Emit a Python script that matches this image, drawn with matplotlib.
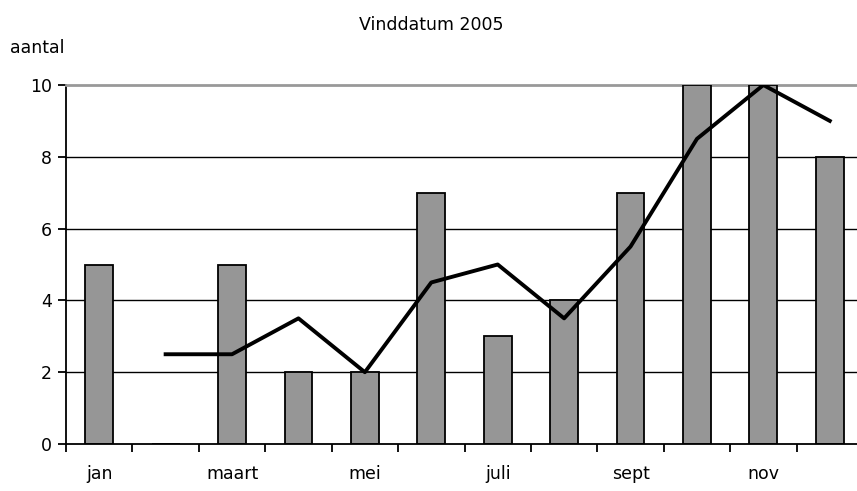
import matplotlib
matplotlib.use("Agg")
import matplotlib.pyplot as plt
import numpy as np

months = ["jan", "feb", "maart", "apr", "mei", "jun", "juli", "aug", "sept", "okt", "nov", "dec"]
tick_labels = ["jan", "", "maart", "", "mei", "", "juli", "", "sept", "", "nov", ""]
counts = [5, 0, 5, 2, 2, 7, 3, 4, 7, 10, 10, 8]
moving_avg = [None, 2.5, 2.5, 3.5, 2, 4.5, 5, 3.5, 5.5, 8.5, 10, 9]

fig = plt.figure(figsize=(8.57, 4.91), dpi=100)
plt.rcParams['font.family'] = ['DejaVu Sans']
W, H = 857, 491
left, right, top, bottom = 66, 863, 85, 444
ax = fig.add_axes([left / W, 1 - bottom / H, (right - left) / W, (bottom - top) / H])

FS = 12.5
x = np.arange(len(months))
ax.bar(x, counts, width=0.42, color="#969696", edgecolor="black", linewidth=1.3, zorder=3)
lx = [xi for xi, v in zip(x, moving_avg) if v is not None]
ly = [v for v in moving_avg if v is not None]
ax.plot(lx, ly, color="black", linewidth=2.8, zorder=4)

ax.set_xlim(-0.5, 11.5)
ax.set_ylim(0, 10)
ax.set_yticks([0, 2, 4, 6, 8, 10])
for yv in [2, 4, 6, 8]:
    ax.axhline(yv, color="black", linewidth=1.0, zorder=1)

ax.spines['top'].set_color("#999999")
ax.spines['top'].set_linewidth(2)
ax.spines['right'].set_visible(False)
ax.spines['left'].set_linewidth(1.3)
ax.spines['bottom'].set_linewidth(1.3)
ax.spines['bottom'].set_zorder(5)

ax.set_xticks(np.arange(-0.5, 12, 1.0))
ax.set_xticklabels([])
ax.set_xticks(x, minor=True)
ax.set_xticklabels(tick_labels, minor=True, fontsize=FS)
ax.tick_params(axis='x', which='minor', length=0, pad=15)
ax.tick_params(axis='x', which='major', length=6, width=1.3, direction='out')
ax.tick_params(axis='y', length=6, width=1.3, labelsize=FS, pad=4)

fig.text(431 / W, 1 - 25 / H, "Vinddatum 2005", ha="center", va="center", fontsize=FS)
fig.text(10 / W, 1 - 48 / H, "aantal", ha="left", va="center", fontsize=FS)

fig.savefig("out.png", dpi=100)
